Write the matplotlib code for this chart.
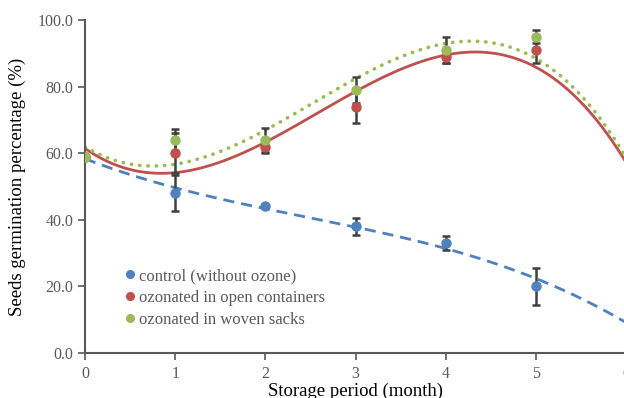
import numpy as np
import matplotlib
matplotlib.use('Agg')
import matplotlib.pyplot as plt

plt.rcParams['font.family'] = ['Liberation Serif', 'DejaVu Serif']

months = [0, 1, 2, 3, 4, 5]
control = [59, 48, 44, 38, 33, 20]
control_err = [0.5, 5.5, 0.5, 2.5, 2, 5.5]
open_cont = [59, 60, 62, 74, 89, 91]
open_err = [0.5, 6, 2, 5, 2, 4]
woven = [59, 64, 64, 79, 91, 95]
woven_err = [0.5, 3.4, 3.5, 3.8, 4, 2]

# points at month 6 fall outside the cropped picture, only their trend shows
month6 = 6
control6 = 10
open6 = 55
woven6 = 56

labels = ['control (without ozone)', 'ozonated in open containers', 'ozonated in woven sacks']
colors = ['#4f81bd', '#c0504d', '#9bbb59']
grey = '#595959'

fig = plt.figure(figsize=(6.24, 3.98), dpi=100)
ax = fig.add_axes([85 / 624, 45 / 398, 541 / 624, 333 / 398])

xx = np.linspace(0, 6, 200)
fits = [
    (control, control6, 3, '--', 2.0),
    (open_cont, open6, 3, '-', 2.0),
    (woven, woven6, 3, ':', 2.6),
]
for (vals, v6, deg, ls, lw), c in zip(fits, colors):
    coef = np.polyfit(months + [month6], vals + [v6], deg)
    line, = ax.plot(xx, np.polyval(coef, xx), ls=ls, color=c, lw=lw, zorder=2)
    if ls == '--':
        line.set_dashes((4, 2.5))
    if ls == ':':
        line.set_dash_capstyle('round')
        line.set_dashes((0.1, 2.2))

for vals, err in zip([control, open_cont, woven], [control_err, open_err, woven_err]):
    ax.errorbar(months, vals, yerr=err, fmt='none', ecolor='#404040', elinewidth=1.8,
                capsize=3, capthick=1.8, zorder=3)
for vals, c, lab in zip([control, open_cont, woven], colors, labels):
    ax.plot(months, vals, 'o', color=c, ms=6.5, label=lab, zorder=4, ls='none')

ax.set_xlim(0, 6)
ax.set_ylim(0, 100)
ax.set_xticks([0, 1, 2, 3, 4, 5, 6])
ax.set_yticks(np.arange(0, 101, 20))
ax.set_yticklabels(['%.1f' % v for v in np.arange(0, 101, 20)])
for s in ['top', 'right']:
    ax.spines[s].set_visible(False)
for s in ['left', 'bottom']:
    ax.spines[s].set_color(grey)
    ax.spines[s].set_linewidth(1.5)
ax.tick_params(axis='both', colors=grey, labelsize=11.5, width=1.2, length=5)
ax.tick_params(axis='x', pad=4)

ax.set_xlabel('Storage period (month)', fontsize=13.5, color='black', labelpad=1)
ax.set_ylabel('Seeds germination percentage (%)', fontsize=13.5, color='black', labelpad=8)

leg = ax.legend(loc='upper left', bbox_to_anchor=(0.04, 0.3), frameon=False,
                fontsize=12, handletextpad=0.05, handlelength=1.0, labelspacing=0.35,
                markerscale=0.85)
for t in leg.get_texts():
    t.set_color(grey)

fig.savefig('out.png', dpi=100)
